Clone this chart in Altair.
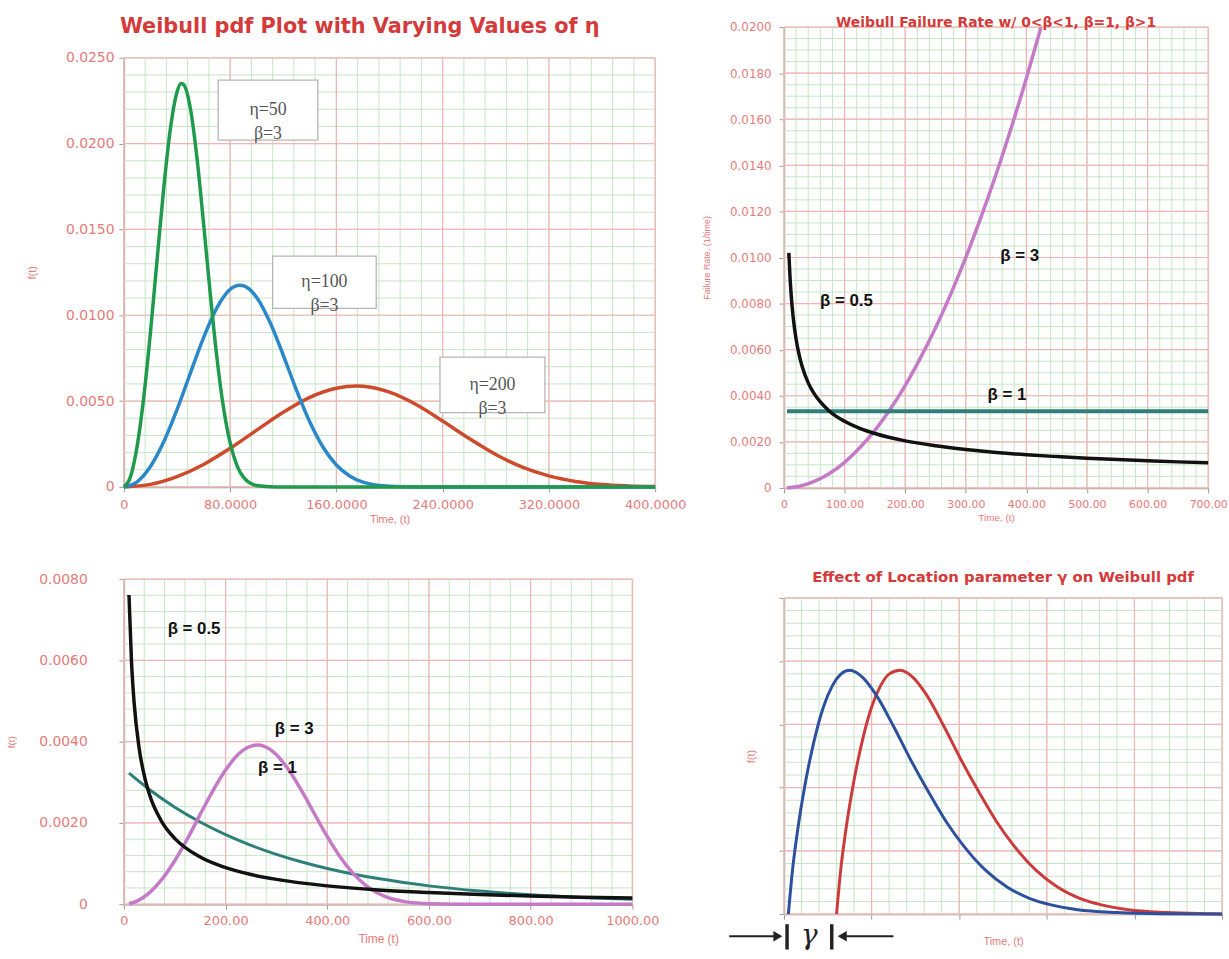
import altair as alt
import pandas as pd

FONT = "Liberation Sans"
LABEL_FONT = "DejaVu Sans"
TITLE_FONT = "DejaVu Sans"
PINK = "#e57a7a"
TITLE_RED = "#d43a3a"
GRID_MINOR = "#c4e6c4"
GRID_MAJOR = "#f2b4b4"
AXIS_GRAY = "#9a9a9a"

# ---------------- Panel 1 : Weibull pdf, varying eta ----------------
p1_x_major = [0, 80, 160, 240, 320, 400]
p1_y_major = [0, 0.005, 0.010, 0.015, 0.020, 0.025]
p1_x_minor = [i * 16 for i in range(26)]
p1_y_minor = [i * 0.001 for i in range(26)]

p1_t_green = [0, 5, 10, 15, 20, 25, 30, 35, 40, 43, 45, 50, 55, 60, 65, 70, 75, 80, 85, 90, 100, 110, 120, 200, 400]
p1_f_green = [0, 0.0006, 0.00238, 0.00525, 0.0090, 0.01324, 0.0174, 0.02086, 0.02301, 0.0235, 0.02344, 0.02207,
              0.01918, 0.01534, 0.01127, 0.00756, 0.00462, 0.00256, 0.00127, 0.00057, 0.00008, 0.00001, 0, 0, 0]
p1_t_blue = [0, 10, 20, 30, 40, 50, 60, 70, 80, 87, 90, 100, 110, 120, 130, 140, 150, 160, 170, 180, 200, 220, 400]
p1_f_blue = [0, 0.0003, 0.00119, 0.00263, 0.0045, 0.00662, 0.0087, 0.01043, 0.01151, 0.01175, 0.01172, 0.01104,
             0.00959, 0.00767, 0.00563, 0.00378, 0.00231, 0.00128, 0.00064, 0.00028, 0.00004, 0, 0]
p1_t_red = [0, 20, 40, 60, 80, 100, 120, 140, 160, 175, 180, 200, 220, 240, 260, 280, 300, 320, 340, 360, 380, 400]
p1_f_red = [0, 0.00015, 0.0006, 0.00131, 0.00225, 0.00331, 0.00435, 0.00522, 0.00575, 0.00588, 0.00586, 0.00552,
            0.0048, 0.00384, 0.00282, 0.00189, 0.00115, 0.00064, 0.00032, 0.00014, 0.00006, 0.00002]

p1_box_t0 = [71, 112, 238]
p1_box_t1 = [146, 190, 317]
p1_box_f0 = [0.0202, 0.0104, 0.00433]
p1_box_f1 = [0.0237, 0.01345, 0.00756]
p1_box_text = ["η=50\nβ=3", "η=100\nβ=3", "η=200\nβ=3"]

# ---------------- Panel 2 : failure rate ----------------
p2_x_major = [0, 100, 200, 300, 400, 500, 600, 700]
p2_y_major = [0, 0.002, 0.004, 0.006, 0.008, 0.010, 0.012, 0.014, 0.016, 0.018, 0.020]
p2_x_minor = [i * 20 for i in range(36)]
p2_y_minor = [i * 0.0005 for i in range(41)]

p2_t_b05 = [8, 10, 12, 15, 20, 25, 30, 40, 50, 60, 75, 100, 125, 150, 200, 250, 300, 350, 400, 450, 500, 550, 600, 650, 700]
p2_h_b05 = [0.0102, 0.00913, 0.00833, 0.00745, 0.00645, 0.00577, 0.00527, 0.00456, 0.00408, 0.00373, 0.00333,
            0.00289, 0.00258, 0.00236, 0.00204, 0.00183, 0.00167, 0.00154, 0.00144, 0.00136, 0.00129, 0.00123,
            0.00118, 0.00113, 0.00109]
p2_t_b1 = [5, 700]
p2_h_b1 = [0.00333, 0.00333]
p2_t_b3 = [5, 25, 50, 75, 100, 125, 150, 175, 200, 225, 250, 275, 300, 325, 350, 375, 400, 424]
p2_h_b3 = [0.000003, 0.00007, 0.00028, 0.000625, 0.00111, 0.00174, 0.0025, 0.0034, 0.00444, 0.00563, 0.00694,
           0.0084, 0.01, 0.01174, 0.01361, 0.01563, 0.01778, 0.01998]
p2_lab_t = [103, 389, 368]
p2_lab_v = [0.00809, 0.01006, 0.00404]
p2_lab_text = ["β = 0.5", "β = 3", "β = 1"]

# ---------------- Panel 3 : pdf, varying beta ----------------
p3_x_major = [0, 200, 400, 600, 800, 1000]
p3_y_major = [0, 0.002, 0.004, 0.006, 0.008]
p3_x_minor = [i * 40 for i in range(26)]
p3_y_minor = [i * 0.0004 for i in range(21)]

p3_t_b05 = [10, 15, 20, 30, 40, 50, 75, 100, 150, 200, 250, 300, 400, 500, 600, 700, 800, 900, 1000]
p3_f_b05 = [0.00761, 0.00596, 0.00498, 0.00384, 0.00317, 0.00271, 0.00202, 0.00162, 0.00116, 0.0009, 0.00073,
            0.00061, 0.00045, 0.00035, 0.00029, 0.00024, 0.0002, 0.00017, 0.00015]
p3_t_b1 = [10, 50, 100, 150, 200, 250, 300, 350, 400, 450, 500, 600, 700, 800, 900, 1000]
p3_f_b1 = [0.003224, 0.002822, 0.002388, 0.002022, 0.001711, 0.001448, 0.001226, 0.001038, 0.000879, 0.000744,
           0.00063, 0.000451, 0.000323, 0.000232, 0.000166, 0.000119]
p3_t_b3 = [10, 25, 50, 75, 100, 125, 150, 175, 200, 225, 250, 265, 275, 300, 325, 350, 375, 400, 425, 450, 475,
           500, 525, 550, 600, 700, 1000]
p3_f_b3 = [0.000011, 0.000069, 0.000277, 0.000615, 0.00107, 0.00161, 0.00221, 0.00279, 0.0033, 0.00369, 0.00389,
           0.00392, 0.00389, 0.00368, 0.00329, 0.00278, 0.00222, 0.00166, 0.00117, 0.00077, 0.00047, 0.00027,
           0.00014, 0.00007, 0.000013, 0, 0]
p3_lab_t = [138, 335, 302]
p3_lab_v = [0.00676, 0.00432, 0.00334]
p3_lab_text = ["β = 0.5", "β = 3", "β = 1"]

# ---------------- Panel 4 : location parameter ----------------
p4_x_major = [0, 20, 40, 60, 80, 100]
p4_y_major = [0, 0.2, 0.4, 0.6, 0.8, 1.0]
p4_x_minor = [i * 4 for i in range(26)]
p4_y_minor = [i * 0.04 for i in range(26)]

p4_t_blue = [1, 2, 3, 5, 7, 9, 11, 13, 15, 18, 21, 25, 29, 33, 37, 41, 46, 51, 56, 61, 67, 76, 86, 100]
p4_f_blue = [0, 0.146, 0.254, 0.424, 0.555, 0.655, 0.721, 0.759, 0.771, 0.748, 0.694, 0.594, 0.486, 0.386, 0.293,
             0.216, 0.139, 0.085, 0.05, 0.029, 0.014, 0.005, 0.001, 0]
p4_t_red = [12, 13, 14, 16, 18, 20, 22, 24, 26.5, 29.5, 32.5, 36.5, 40.5, 44.5, 48.5, 52.5, 57.5, 62.5, 67.5, 72.5,
            78.5, 87.5, 97, 100]
p4_f_red = [0, 0.146, 0.254, 0.424, 0.555, 0.655, 0.721, 0.759, 0.771, 0.748, 0.694, 0.594, 0.486, 0.386, 0.293,
            0.216, 0.139, 0.085, 0.05, 0.029, 0.014, 0.005, 0.001, 0]

p4_arrow_x0 = [-12.5, 13.3]
p4_arrow_x1 = [-1.4, 25.0]
p4_arrow_y = [-0.07, -0.07]
p4_bar_x = [0.7, 10.9]
p4_bar_y0 = [-0.032, -0.032]
p4_bar_y1 = [-0.112, -0.112]
p4_gamma_x = [5.8]
p4_gamma_y = [-0.07]


def mk_axis(values, fmt, title, lsize, tsize, lpad, tpad, labels=True):
    kw = dict(values=values, title=title, labelFont=LABEL_FONT, labelFontSize=lsize, labelColor=PINK,
              titleFont=FONT, titleFontSize=tsize, titleColor=PINK, titleFontWeight="normal",
              domainColor=AXIS_GRAY, domainWidth=1.5, tickColor=AXIS_GRAY, tickSize=5, grid=False,
              labelPadding=lpad, titlePadding=tpad, labelOverlap=False, labelFlush=False, labels=labels)
    if labels:
        kw["labelExpr"] = "datum.value == 0 ? '0' : format(datum.value, '%s')" % fmt
    return alt.Axis(**kw)


def panel(w, h, xdom, ydom, xmin, ymin, xmaj, ymaj, xaxis, yaxis, curves, extras=None, title=None):
    xs = alt.Scale(domain=xdom, nice=False, zero=False)
    ys = alt.Scale(domain=ydom, nice=False, zero=False)
    X = lambda f: alt.X(f, scale=xs, axis=xaxis)
    Y = lambda f: alt.Y(f, scale=ys, axis=yaxis)
    layers = [
        alt.Chart(pd.DataFrame({"gx": xmin})).mark_rule(color=GRID_MINOR, strokeWidth=1).encode(x=X("gx:Q")),
        alt.Chart(pd.DataFrame({"gy": ymin})).mark_rule(color=GRID_MINOR, strokeWidth=1).encode(y=Y("gy:Q")),
        alt.Chart(pd.DataFrame({"gx": xmaj})).mark_rule(color=GRID_MAJOR, strokeWidth=1.2).encode(x=X("gx:Q")),
        alt.Chart(pd.DataFrame({"gy": ymaj})).mark_rule(color=GRID_MAJOR, strokeWidth=1.2).encode(y=Y("gy:Q")),
    ]
    for tx, fy, color, sw in curves:
        layers.append(
            alt.Chart(pd.DataFrame({"t": tx, "f": fy}))
            .mark_line(color=color, strokeWidth=sw, interpolate="monotone")
            .encode(x=X("t:Q"), y=Y("f:Q"))
        )
    if extras:
        for mk in extras:
            layers.append(mk(X, Y))
    ch = alt.layer(*layers).properties(width=w, height=h)
    if title is not None:
        ch = ch.properties(title=title)
    return ch


def bold_labels(ts, vs, texts, size=17):
    def f(X, Y):
        return alt.Chart(pd.DataFrame({"t": ts, "v": vs, "s": texts})).mark_text(
            font=FONT, fontSize=size, fontWeight="bold", color="#111111"
        ).encode(x=X("t:Q"), y=Y("v:Q"), text="s:N")
    return f


def p1_boxes(X, Y):
    df = pd.DataFrame({"x0": p1_box_t0, "x1": p1_box_t1, "y0": p1_box_f0, "y1": p1_box_f1})
    return alt.Chart(df).mark_rect(fill="white", stroke="#b5b5b5", strokeWidth=1.3).encode(
        x=X("x0:Q"), x2="x1:Q", y=Y("y0:Q"), y2="y1:Q")


def p1_box_labels(X, Y):
    df = pd.DataFrame({
        "xc": [(a + b) / 2 for a, b in zip(p1_box_t0, p1_box_t1)],
        "yc": [(a + b) / 2 for a, b in zip(p1_box_f0, p1_box_f1)],
        "s": p1_box_text,
    })
    return alt.Chart(df).mark_text(font="Liberation Serif", fontSize=18, color="#555555",
                                   lineBreak="\n", lineHeight=24, baseline="middle").encode(
        x=X("xc:Q"), y=Y("yc:Q"), text="s:N")


def p4_arrow_lines(X, Y):
    df = pd.DataFrame({"a": p4_arrow_x0, "b": p4_arrow_x1, "y": p4_arrow_y})
    return alt.Chart(df).mark_rule(color="#222222", strokeWidth=2).encode(x=X("a:Q"), x2="b:Q", y=Y("y:Q"))


def p4_arrow_heads_r(X, Y):
    df = pd.DataFrame({"a": [p4_arrow_x1[0]], "y": [p4_arrow_y[0]]})
    return alt.Chart(df).mark_point(shape="triangle-right", filled=True, size=110, color="#222222",
                                    opacity=1).encode(x=X("a:Q"), y=Y("y:Q"))


def p4_arrow_heads_l(X, Y):
    df = pd.DataFrame({"a": [p4_arrow_x0[1]], "y": [p4_arrow_y[1]]})
    return alt.Chart(df).mark_point(shape="triangle-left", filled=True, size=110, color="#222222",
                                    opacity=1).encode(x=X("a:Q"), y=Y("y:Q"))


def p4_bars(X, Y):
    df = pd.DataFrame({"x": p4_bar_x, "y0": p4_bar_y0, "y1": p4_bar_y1})
    return alt.Chart(df).mark_rule(color="#222222", strokeWidth=3.5).encode(x=X("x:Q"), y=Y("y0:Q"), y2="y1:Q")


def p4_gamma(X, Y):
    df = pd.DataFrame({"x": p4_gamma_x, "y": p4_gamma_y, "s": ["γ"]})
    return alt.Chart(df).mark_text(font="DejaVu Serif", fontSize=28, fontStyle="italic", color="#222222",
                                   baseline="middle").encode(x=X("x:Q"), y=Y("y:Q"), text="s:N")


# spacer carrying the title of panel 1 (lets panel 1 sit lower than panel 2)
sp1 = alt.Chart(pd.DataFrame({"a": [0]})).mark_rule(opacity=0).encode(
    x=alt.value(0), x2=alt.value(1), y=alt.value(1)
).properties(
    width=536, height=20, view=alt.ViewBackground(strokeOpacity=0),
    title=alt.TitleParams("Weibull pdf Plot with Varying Values of η", font=TITLE_FONT, fontSize=21,
                          fontWeight="bold", color=TITLE_RED, offset=0, dy=10, dx=-30, frame="group"),
)

p1 = panel(
    536, 433, [0, 400], [0, 0.025], p1_x_minor, p1_y_minor, p1_x_major, p1_y_major,
    mk_axis(p1_x_major, ".4f", "Time, (t)", 13, 11, 7, 2),
    mk_axis(p1_y_major, ".4f", "f(t)", 14, 11, 5, 28),
    [(p1_t_red, p1_f_red, "#cc4b2c", 3.5), (p1_t_blue, p1_f_blue, "#2a88c8", 3.5),
     (p1_t_green, p1_f_green, "#1f9a4c", 3.5)],
    extras=[p1_boxes, p1_box_labels],
)

p2 = panel(
    428, 465, [0, 700], [0, 0.02], p2_x_minor, p2_y_minor, p2_x_major, p2_y_major,
    mk_axis(p2_x_major, ".2f", "Time, (t)", 11, 10, 6, 3),
    mk_axis(p2_y_major, ".4f", "Failure Rate, (1/time)", 12, 9, 8, 18),
    [(p2_t_b3, p2_h_b3, "#c47ac6", 3.5), (p2_t_b1, p2_h_b1, "#2d7f78", 4),
     (p2_t_b05, p2_h_b05, "#111111", 3.5)],
    extras=[bold_labels(p2_lab_t, p2_lab_v, p2_lab_text)],
    title=alt.TitleParams("Weibull Failure Rate w/ 0<β<1, β=1, β>1", font=TITLE_FONT, fontSize=14,
                          fontWeight="bold", color=TITLE_RED, offset=0, dy=9, frame="group"),
)

p3 = panel(
    513, 328, [0, 1000], [0, 0.008], p3_x_minor, p3_y_minor, p3_x_major, p3_y_major,
    mk_axis(p3_x_major, ".2f", "Time (t)", 13, 12, 6, 6),
    mk_axis(p3_y_major, ".4f", "f(t)", 14, 10, 32, 22),
    [(p3_t_b1, p3_f_b1, "#2d7f78", 3), (p3_t_b3, p3_f_b3, "#c47ac6", 3.5),
     (p3_t_b05, p3_f_b05, "#111111", 3.5)],
    extras=[bold_labels(p3_lab_t, p3_lab_v, p3_lab_text)],
)

p4 = panel(
    442, 319, [0, 100], [0, 1], p4_x_minor, p4_y_minor, p4_x_major, p4_y_major,
    mk_axis(p4_x_major, "", "Time, (t)", 11, 11, 4, 16, labels=False),
    mk_axis(p4_y_major, "", "f(t)", 11, 11, 4, 22, labels=False),
    [(p4_t_red, p4_f_red, "#cc3b3b", 3), (p4_t_blue, p4_f_blue, "#2c4f9e", 3)],
    extras=[p4_arrow_lines, p4_arrow_heads_r, p4_arrow_heads_l, p4_bars, p4_gamma],
    title=alt.TitleParams("Effect of Location parameter γ on Weibull pdf", font=TITLE_FONT, fontSize=15,
                          fontWeight="bold", color=TITLE_RED, offset=12, frame="group"),
)

left_inner = alt.vconcat(p1, p3, spacing=46)
left = alt.vconcat(sp1, left_inner, spacing=3)
right = alt.vconcat(p2, p4, spacing=46)

chart = alt.hconcat(left, right, spacing=15).properties(
    padding={"left": 6, "top": 10, "right": 0, "bottom": 0}
).configure_view(stroke="#a8a8a8").configure(background="white")

chart.save("out.html", embed_options={"renderer": "svg", "actions": False})
